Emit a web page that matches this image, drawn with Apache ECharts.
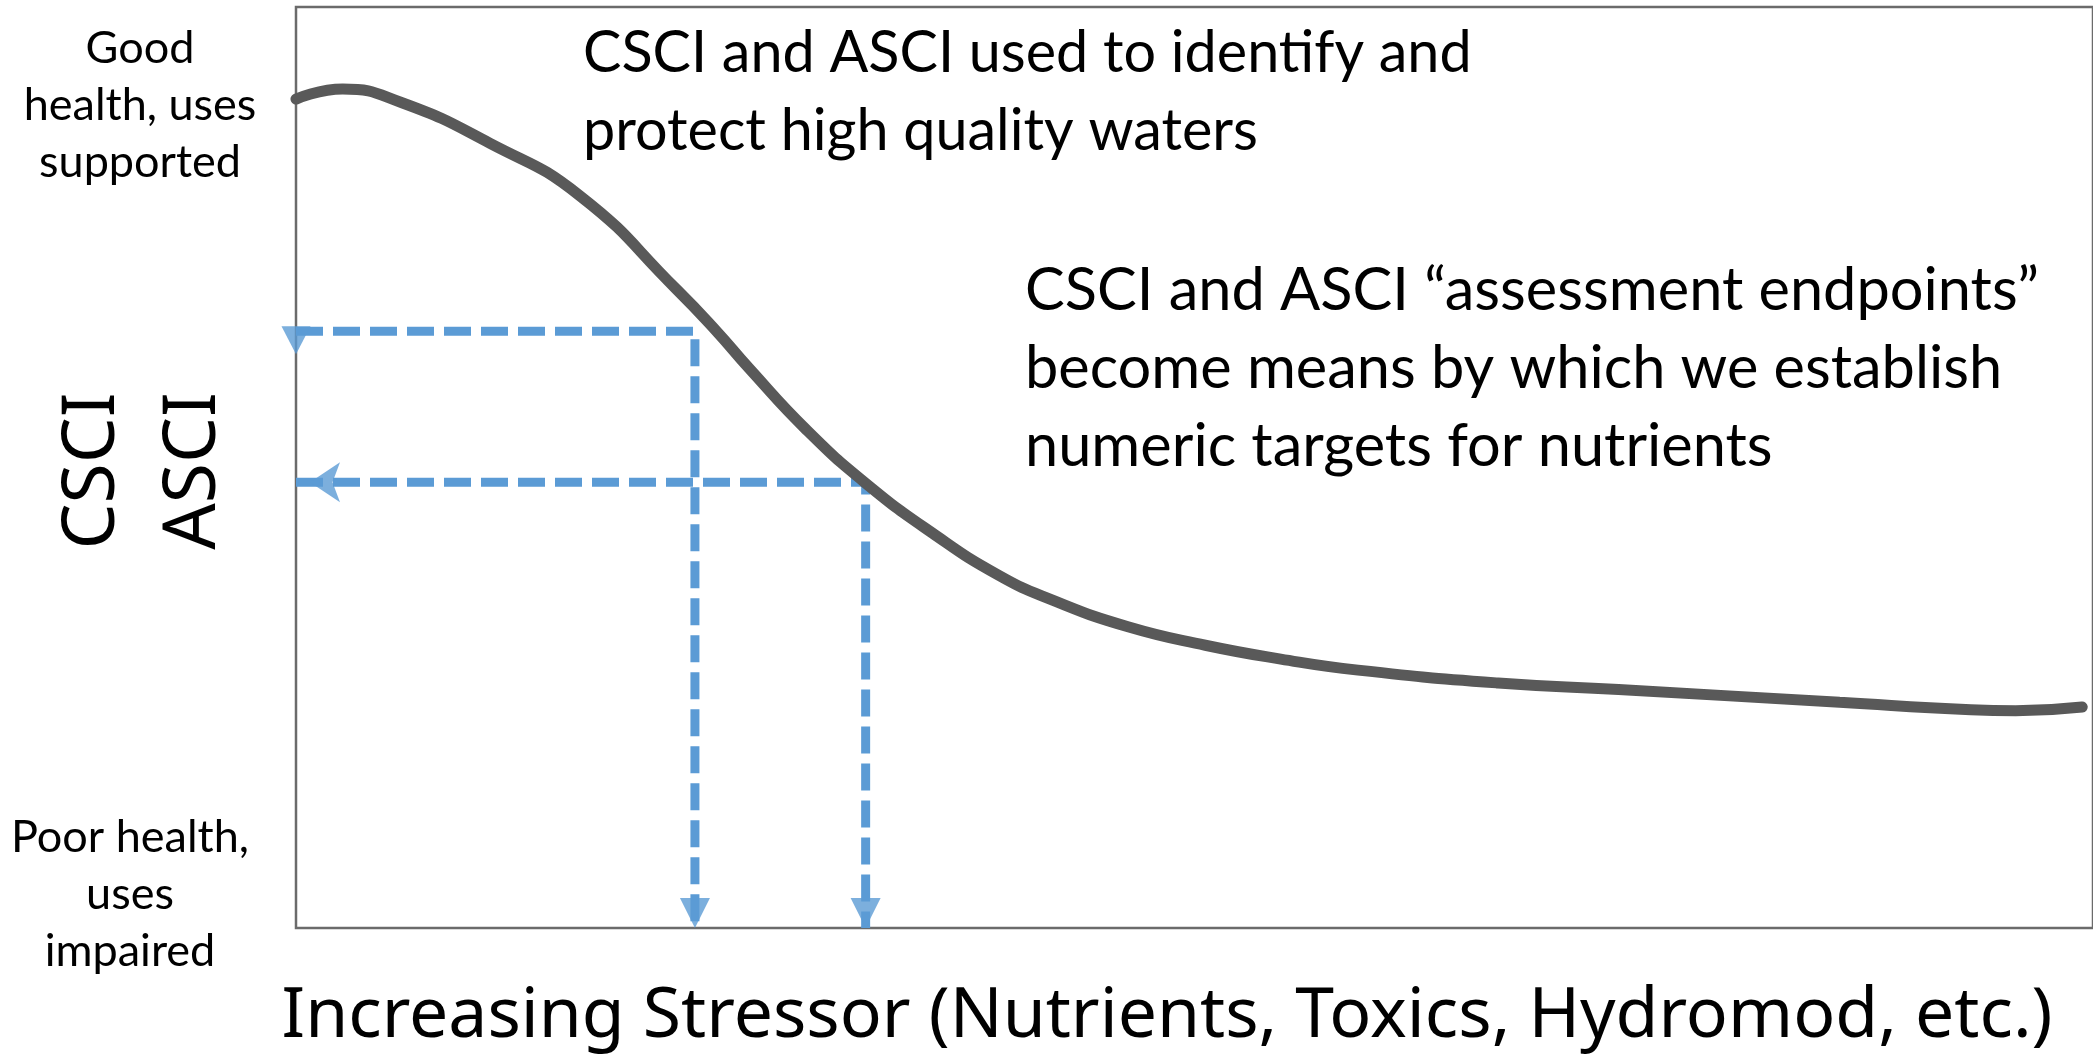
<!DOCTYPE html>
<html>
<head>
<meta charset="utf-8">
<title>CSCI / ASCI stressor response</title>
<script src="https://cdn.jsdelivr.net/npm/echarts@6/dist/echarts.min.js"></script>
<style>
	html, body { margin: 0; padding: 0; background: #fff; }
	#chart { width: 2093px; height: 1055px; }
</style>
</head>
<body>
<div id="chart"></div>
<script>
// stressor (x) vs biological condition (y), both 0-100 on the frame
const stressor = [0, 2.6, 5.9, 10.8, 15.8, 21.2, 23.4, 25.2, 28.4, 31.7, 35.4, 39.1, 42.1, 46.3, 50.6, 54.8, 59.1, 66.9, 73.6, 85.9, 93.2, 95.7, 99.4];
const condition = [90.0, 91.1, 89.6, 85.2, 79.5, 69.3, 64.8, 60.8, 54.1, 48.3, 42.9, 38.3, 35.6, 32.7, 30.7, 29.2, 28.0, 26.6, 25.9, 24.5, 23.7, 23.6, 24.0];

// the two endpoints read back to stressor targets
const targetStressor = [22.2, 31.7];
const targetIndex = [64.8, 48.4];

const goodLabel = ["Good", "health, uses", "supported"];
const poorLabel = ["Poor health,", "uses", "impaired"];
const noteTop = ["CSCI and ASCI used to identify and", "protect high quality waters"];
const noteRight = [
	"CSCI and ASCI \u201cassessment endpoints\u201d",
	"become means by which we establish",
	"numeric targets for nutrients",
];
const yTitles = ["CSCI", "ASCI"];
const xTitle = "Increasing Stressor (Nutrients, Toxics, Hydromod, etc.)";

const blue = "#5B9BD5";
const bodyFont = "Lato, 'Open Sans', sans-serif";
const titleFont = "'Noto Sans', 'DejaVu Sans', sans-serif";

const curveData = stressor.map((x, i) => [x, condition[i]]);

// dashed guides: from y axis across to the curve, then down to the x axis
const guideSeries = targetStressor.map((x, i) => ({
	type: "line",
	data: [[0, targetIndex[i]], [x, targetIndex[i]], [x, 0]],
	symbol: "none",
	silent: true,
	z: 2,
	lineStyle: { color: blue, width: 9, type: [27, 10] },
}));

function textLines(lines, x, y0, lh, font, align) {
	return lines.map((t, i) => ({
		type: "text",
		x: x,
		y: y0 + i * lh,
		style: {
			text: t,
			font: font,
			fill: "#000",
			textAlign: align,
			textVerticalAlign: "middle",
		},
	}));
}

const graphics = [].concat(
	textLines(goodLabel, 140, 48, 57, "45px " + bodyFont, "center"),
	textLines(poorLabel, 130, 837, 57, "45px " + bodyFont, "center"),
	textLines(noteTop, 583, 53, 78, "57.5px " + bodyFont, "left"),
	textLines(noteRight, 1025, 291, 78, "59.5px " + bodyFont, "left"),
	yTitles.map((t, i) => ({
		type: "text",
		x: 93 + i * 101,
		y: 471,
		rotation: Math.PI / 2,
		style: {
			text: t,
			font: "73px " + titleFont,
			fill: "#000",
			textAlign: "center",
			textVerticalAlign: "middle",
		},
	})),
	[{
		type: "text",
		x: 1167,
		y: 1017,
		style: {
			text: xTitle,
			font: "69.7px " + titleFont,
			fill: "#000",
			textAlign: "center",
			textVerticalAlign: "middle",
		},
	}]
);

const chart = echarts.init(document.getElementById("chart"), null, { renderer: "canvas" });

chart.setOption({
	animation: false,
	backgroundColor: "#fff",
	grid: {
		left: 296,
		top: 7,
		right: -4,
		bottom: 127,
		show: true,
		borderColor: "#6b6b6b",
		borderWidth: 2.5,
	},
	xAxis: { type: "value", min: 0, max: 100, show: false },
	yAxis: { type: "value", min: 0, max: 100, show: false },
	graphic: graphics,
	series: [
		...guideSeries,
		{
			// odd down-pointing head at the y axis end of the upper guide
			type: "scatter",
			data: [[0, targetIndex[0]]],
			symbol: "triangle",
			symbolRotate: 180,
			symbolSize: [29, 28],
			symbolOffset: [0, 9],
			itemStyle: { color: blue },
			clip: false,
			silent: true,
			z: 4,
		},
		{
			type: "scatter",
			data: [[0, targetIndex[1]]],
			symbol: "arrow",
			symbolRotate: 90,
			symbolSize: [30, 30],
			symbolOffset: [14, 0],
			itemStyle: { color: blue },
			clip: false,
			silent: true,
			z: 4,
		},
		{
			type: "scatter",
			data: targetStressor.map((x) => [x, 0]),
			symbol: "triangle",
			symbolRotate: 180,
			symbolSize: [30, 30],
			symbolOffset: [0, -15],
			itemStyle: { color: blue },
			clip: false,
			silent: true,
			z: 4,
		},
		{
			type: "line",
			data: curveData,
			smooth: 0.5,
			symbol: "none",
			silent: true,
			z: 3,
			lineStyle: { color: "#595959", width: 11, cap: "round" },
		},
	],
});
</script>
</body>
</html>
